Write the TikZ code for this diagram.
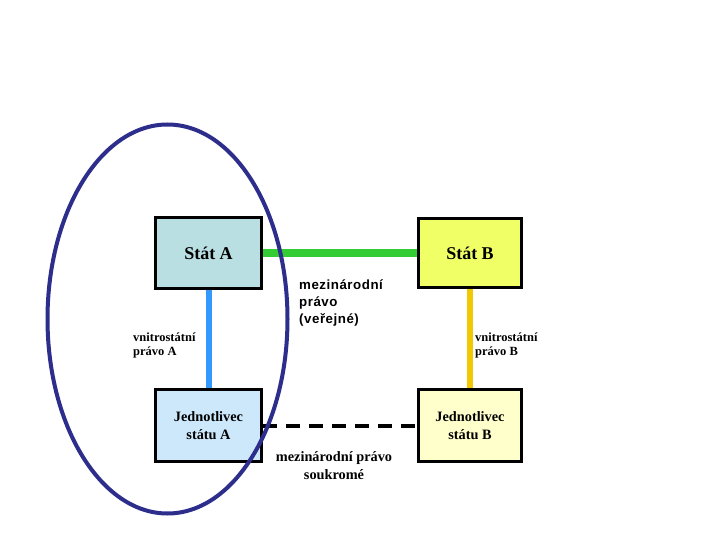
\documentclass[tikz,border=0pt]{standalone}
\usepackage{fontspec}
\setmainfont{Liberation Serif}
\newfontfamily\sansspaced[LetterSpace=4]{Liberation Sans}
\definecolor{stata}{RGB}{185,223,227}
\definecolor{jeda}{RGB}{204,232,250}
\definecolor{statb}{RGB}{240,255,102}
\definecolor{jedb}{RGB}{255,255,204}
\definecolor{ovalc}{RGB}{45,45,140}
\definecolor{greenl}{RGB}{51,204,51}
\definecolor{bluel}{RGB}{51,153,255}
\definecolor{yell}{RGB}{242,200,0}
\tikzset{
  box/.style={draw=black,line width=3pt,inner sep=0pt,align=center},
  smalllab/.style={font=\bfseries\fontsize{12.5}{14}\selectfont,align=left,inner sep=0pt,anchor=west},
  seriflab/.style={font=\bfseries\fontsize{14.3}{18}\selectfont,align=center,inner sep=0pt},
}
\begin{document}
\begin{tikzpicture}[x=1pt,y=-1pt]
\useasboundingbox[fill=white] (0,0) rectangle (720,540);
\node[box,fill=stata,minimum width=106pt,minimum height=71pt,font=\bfseries\fontsize{18}{20}\selectfont] (sa) at (208.5,253) {Stát A};
\node[box,fill=statb,minimum width=103pt,minimum height=69pt,font=\bfseries\fontsize{18}{20}\selectfont] (sb) at (470,253) {Stát B};
\node[box,fill=jeda,minimum width=106pt,minimum height=72pt,seriflab] (ja) at (208.5,425.5) {Jednotlivec\\státu A};
\node[box,fill=jedb,minimum width=103pt,minimum height=72pt,seriflab] (jb) at (470,425.5) {Jednotlivec\\státu B};
\draw[greenl,line width=8pt] (sa.east) -- (sb.west);
\draw[bluel,line width=6pt] (sa.south) -- (ja.north);
\draw[yell,line width=6pt] (sb.south) -- (jb.north);
\draw[black,line width=4pt,dash pattern=on 14pt off 9pt] (ja.east) -- (jb.west);
\node[font=\sansspaced\bfseries\fontsize{13.3}{17}\selectfont,align=left,inner sep=0pt,anchor=north west] (mv) at (299,280) {mezinárodní\\právo\\(veřejné)};
\node[smalllab] (va) at (133,345) {vnitrostátní\\právo A};
\node[smalllab] (vb) at (475,345) {vnitrostátní\\právo B};
\node[seriflab] (ms) at (334,466) {mezinárodní právo\\soukromé};
\draw[ovalc,line width=4pt] (167.5,319) ellipse [x radius=120,y radius=194.5];
\end{tikzpicture}
\end{document}
